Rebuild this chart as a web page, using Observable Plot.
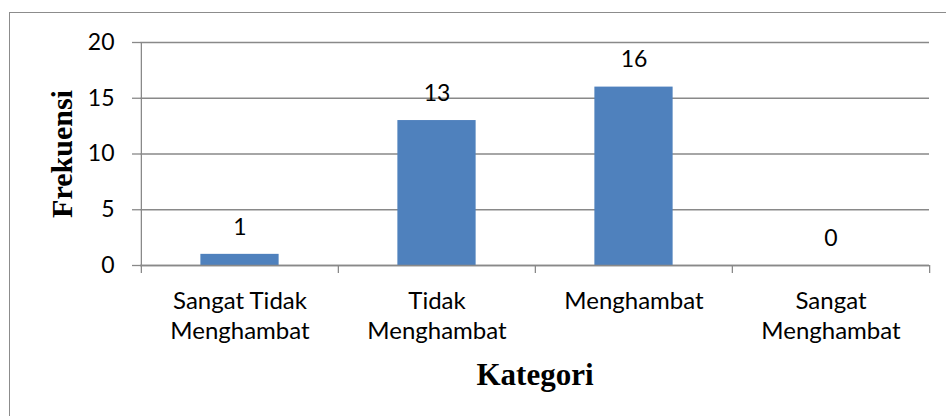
<!DOCTYPE html>
<html>
<head>
<meta charset="utf-8">
<script src="https://cdn.jsdelivr.net/npm/d3@7"></script>
<script src="https://cdn.jsdelivr.net/npm/@observablehq/plot@0.6"></script>
<style>
  html, body { margin: 0; padding: 0; background: #fff; width: 946px; height: 416px; overflow: hidden; }
  #wrap { position: relative; width: 946px; height: 416px; }
  #border { position: absolute; left: 9px; top: 12px; right: -5px; bottom: -5px; border-left: 1.5px solid #8c8c8c; border-top: 1.5px solid #8c8c8c; pointer-events: none; }
  #chart { position: absolute; left: 0; top: 0; }
</style>
</head>
<body>
<div id="wrap"><div id="chart"></div><div id="border"></div></div>
<script>
const categories = ["Sangat Tidak Menghambat", "Tidak Menghambat", "Menghambat", "Sangat Menghambat"];
const categoryLabels = ["Sangat Tidak\nMenghambat", "Tidak\nMenghambat", "Menghambat", "Sangat\nMenghambat"];
const frequencies = [1, 13, 16, 0];
const yTicks = [0, 5, 10, 15, 20];
const xTitle = "Kategori";
const yTitle = "Frekuensi";

const data = categories.map((c, i) => ({ category: c, label: categoryLabels[i], value: frequencies[i] }));

const W = 946, H = 416;
const mL = 140, mR = 17, mT = 42, mB = 151;
const step = (W - mL - mR) / categories.length;
const barW = 78.5;
const inset = (step - barW) / 2;
const sans = "Lato, 'Open Sans', sans-serif";
const serif = "'Liberation Serif', 'DejaVu Serif', serif";
const grid = "#898989";

const chart = Plot.plot({
  width: W, height: H,
  marginLeft: mL, marginRight: mR, marginTop: mT, marginBottom: mB,
  style: { background: "transparent", fontFamily: sans },
  x: { domain: categories, padding: 0, axis: null },
  y: { domain: [0, 20], axis: null },
  marks: [
    Plot.gridY(yTicks, { stroke: grid, strokeOpacity: 1, strokeWidth: 1.3 }),
    Plot.axisY(yTicks, { ticks: yTicks, tickSize: 8, stroke: grid, strokeWidth: 1.3, tickPadding: 18, fontSize: 23, fill: "#000", label: null, fontFamily: sans }),
    Plot.barY(data, { x: "category", y: "value", fill: "#4F81BD", insetLeft: inset, insetRight: inset }),
    Plot.ruleY([0], { stroke: grid, strokeWidth: 1.3 }),
    Plot.ruleX(categories, { x: d => d, dx: -step / 2, y1: 0, y2: -0.72, stroke: grid, strokeWidth: 1.3, clip: false }),
    Plot.ruleX([categories[categories.length - 1]], { x: d => d, dx: step / 2, y1: 0, y2: -0.72, stroke: grid, strokeWidth: 1.3, clip: false }),
    Plot.ruleX([categories[0]], { x: d => d, dx: -step / 2, y1: 0, y2: 20, stroke: grid, strokeWidth: 1.3 }),
    Plot.text(data, { x: "category", y: "value", text: d => String(d.value), dy: -27, fontSize: 23, fill: "#000", fontFamily: sans }),
    Plot.text(data, { x: "category", text: "label", frameAnchor: "bottom", lineAnchor: "top", dy: 22, fontSize: 24, lineHeight: 1.25, fill: "#000", fontFamily: sans }),
    Plot.text([xTitle], { frameAnchor: "bottom", dy: 119, fontSize: 31, fontWeight: "bold", fontFamily: serif, fill: "#000" }),
    Plot.text([yTitle], { frameAnchor: "left", textAnchor: "middle", dx: -78, rotate: -90, fontSize: 30, fontWeight: "bold", fontFamily: serif, fill: "#000" })
  ]
});
document.getElementById("chart").appendChild(chart);
</script>
</body>
</html>
